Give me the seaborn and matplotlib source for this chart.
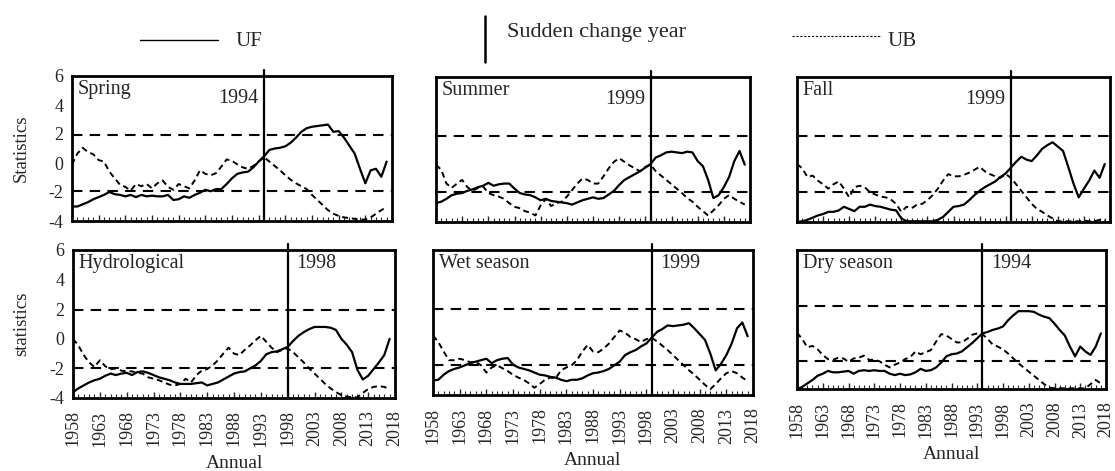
import matplotlib
matplotlib.use("Agg")
import matplotlib.pyplot as plt
from matplotlib.lines import Line2D
import seaborn as sns

# %% Data: Mann-Kendall UF / UB statistics, 1958-2017
years = list(range(1958, 2018))

spring_uf = [-3.0, -3.0, -2.85, -2.7, -2.5, -2.35, -2.2, -2.0, -2.15, -2.2,
             -2.3, -2.2, -2.35, -2.2, -2.3, -2.25, -2.3, -2.3, -2.2, -2.55,
             -2.5, -2.3, -2.4, -2.2, -2.05, -1.85, -1.95, -1.8, -1.8, -1.45,
             -1.05, -0.75, -0.65, -0.6, -0.3, 0.1, 0.45, 0.9, 1.0, 1.05,
             1.15, 1.4, 1.75, 2.15, 2.4, 2.5, 2.55, 2.6, 2.65, 2.15,
             2.2, 1.75, 1.2, 0.65, -0.4, -1.4, -0.5, -0.4, -0.95, 0.1]
spring_ub = [-0.1, 0.65, 1.05, 0.75, 0.6, 0.2, 0.1, -0.6, -1.05, -1.5,
             -1.65, -1.9, -1.45, -1.6, -1.45, -1.75, -1.4, -1.2, -1.65, -1.85,
             -1.45, -1.6, -1.75, -1.2, -0.5, -0.75, -0.85, -0.7, -0.25, 0.25,
             0.15, -0.1, -0.3, -0.4, -0.2, 0.1, 0.4, 0.1, -0.2, -0.5,
             -0.85, -1.15, -1.4, -1.6, -1.8, -2.2, -2.55, -2.9, -3.25, -3.5,
             -3.65, -3.75, -3.8, -3.85, -3.9, -3.9, -3.75, -3.5, -3.25, -3.05]

summer_uf = [-2.7, -2.6, -2.4, -2.15, -2.05, -2.0, -1.85, -1.75, -1.6, -1.5,
             -1.3, -1.5, -1.4, -1.35, -1.35, -1.7, -2.0, -2.1, -2.15, -2.3,
             -2.5, -2.4, -2.55, -2.6, -2.65, -2.7, -2.8, -2.65, -2.5, -2.4,
             -2.3, -2.4, -2.35, -2.1, -1.85, -1.45, -1.1, -0.9, -0.7, -0.5,
             -0.25, 0.0, 0.45, 0.6, 0.8, 0.85, 0.8, 0.75, 0.85, 0.8,
             0.2, -0.15, -1.1, -2.35, -2.15, -1.6, -0.9, 0.2, 0.9, -0.05]
summer_ub = [-0.05, -0.4, -1.35, -1.65, -1.35, -1.1, -1.6, -1.85, -1.65, -1.55,
             -2.0, -2.15, -2.25, -2.4, -2.7, -2.95, -3.05, -3.25, -3.35, -3.55,
             -2.85, -2.4, -2.9, -2.7, -2.6, -2.25, -1.8, -1.35, -1.0, -1.1,
             -1.35, -1.35, -0.85, -0.3, 0.15, 0.4, 0.15, -0.1, -0.3, -0.5,
             -0.2, -0.05, -0.5, -0.8, -1.1, -1.4, -1.7, -2.0, -2.35, -2.6,
             -2.95, -3.25, -3.55, -3.2, -2.85, -2.4, -2.15, -2.4, -2.6, -2.8]

fall_uf = [-4.0, -3.95, -3.85, -3.7, -3.55, -3.45, -3.3, -3.3, -3.2, -2.95,
           -3.1, -3.25, -2.95, -2.95, -2.8, -2.9, -2.95, -3.05, -3.15, -3.2,
           -3.75, -3.95, -3.95, -3.95, -3.95, -3.95, -3.95, -3.85, -3.65, -3.3,
           -2.95, -2.9, -2.8, -2.5, -2.15, -1.85, -1.6, -1.4, -1.2, -0.9,
           -0.65, -0.25, 0.15, 0.5, 0.3, 0.2, 0.6, 1.05, 1.3, 1.5,
           1.2, 0.9, -0.2, -1.35, -2.3, -1.7, -1.15, -0.45, -0.95, 0.0]
fall_ub = [0.0, -0.3, -0.9, -0.8, -1.15, -1.4, -1.7, -1.4, -1.2, -1.7,
           -2.3, -1.6, -1.5, -1.6, -1.95, -2.1, -2.25, -2.3, -2.45, -2.75,
           -3.3, -2.95, -3.05, -2.8, -2.75, -2.5, -2.15, -1.7, -1.15, -0.7,
           -0.85, -0.85, -0.75, -0.6, -0.4, -0.2, -0.5, -0.7, -0.85, -0.95,
           -0.7, -0.95, -1.4, -1.85, -2.3, -2.75, -3.1, -3.3, -3.55, -3.75,
           -3.95, -3.95, -3.95, -3.95, -3.95, -3.9, -3.95, -3.95, -3.85, -3.9]

hydro_uf = [-3.6, -3.35, -3.15, -2.95, -2.8, -2.7, -2.5, -2.35, -2.45, -2.35,
            -2.3, -2.45, -2.25, -2.2, -2.3, -2.45, -2.6, -2.7, -2.8, -2.95,
            -3.05, -3.05, -3.05, -3.0, -2.95, -3.15, -3.05, -2.95, -2.75, -2.55,
            -2.35, -2.25, -2.2, -2.0, -1.8, -1.5, -1.05, -0.9, -0.85, -0.7,
            -0.55, -0.15, 0.2, 0.45, 0.65, 0.8, 0.8, 0.8, 0.75, 0.6,
            0.0, -0.4, -0.9, -2.1, -2.75, -2.5, -2.05, -1.6, -1.1, 0.0]
hydro_ub = [0.0, -0.45, -1.1, -1.6, -1.9, -1.45, -1.85, -2.05, -2.0, -2.15,
            -2.2, -2.2, -2.3, -2.35, -2.6, -2.7, -2.8, -2.95, -3.1, -3.15,
            -3.05, -2.7, -2.95, -2.45, -2.15, -2.05, -1.8, -1.45, -1.0, -0.6,
            -1.0, -1.1, -0.75, -0.45, -0.1, 0.2, -0.2, -0.6, -0.9, -0.75,
            -0.65, -0.9, -1.25, -1.6, -2.0, -2.35, -2.7, -3.05, -3.35, -3.6,
            -3.8, -3.9, -3.95, -3.95, -3.65, -3.4, -3.25, -3.2, -3.25, -3.4]

wet_uf = [-3.0, -2.95, -2.6, -2.35, -2.2, -2.1, -1.95, -1.8, -1.7, -1.6,
          -1.5, -1.8, -1.6, -1.5, -1.45, -1.9, -2.1, -2.2, -2.3, -2.45,
          -2.6, -2.65, -2.75, -2.8, -2.95, -3.05, -2.95, -2.95, -2.85, -2.65,
          -2.5, -2.45, -2.35, -2.2, -1.95, -1.7, -1.25, -1.05, -0.9, -0.65,
          -0.45, -0.05, 0.35, 0.55, 0.8, 0.75, 0.8, 0.85, 0.95, 0.6,
          0.2, -0.2, -1.15, -2.3, -1.85, -1.25, -0.45, 0.6, 1.0, 0.05]
wet_ub = [0.1, -0.35, -1.0, -1.6, -1.6, -1.5, -1.6, -1.75, -1.7, -1.95,
          -2.45, -2.1, -1.95, -2.15, -2.35, -2.6, -2.8, -2.95, -3.2, -3.5,
          -3.25, -2.95, -2.8, -2.85, -2.3, -2.1, -1.95, -1.6, -1.0, -0.55,
          -1.0, -1.05, -0.8, -0.45, 0.0, 0.45, 0.3, 0.0, -0.15, -0.35,
          -0.15, -0.05, -0.3, -0.6, -0.9, -1.25, -1.6, -1.95, -2.3, -2.6,
          -2.95, -3.3, -3.6, -3.25, -2.85, -2.5, -2.35, -2.5, -2.8, -3.05]

dry_uf = [-4.0, -3.85, -3.6, -3.35, -3.05, -2.9, -2.7, -2.8, -2.8, -2.75,
          -2.7, -2.9, -2.7, -2.65, -2.7, -2.65, -2.7, -2.7, -2.9, -3.0,
          -2.9, -3.0, -2.95, -2.8, -2.55, -2.7, -2.65, -2.45, -2.1, -1.65,
          -1.5, -1.45, -1.3, -1.0, -0.7, -0.35, 0.0, 0.1, 0.25, 0.35,
          0.5, 0.95, 1.3, 1.6, 1.6, 1.6, 1.55, 1.35, 1.2, 1.1,
          0.7, 0.25, -0.15, -0.95, -1.65, -0.95, -1.3, -1.55, -0.95, 0.0]
dry_ub = [0.05, -0.4, -1.0, -0.9, -1.15, -1.55, -1.85, -1.9, -1.75, -1.8,
          -2.05, -1.8, -1.75, -1.6, -1.9, -1.9, -2.0, -2.25, -2.45, -2.25,
          -2.1, -1.85, -1.7, -1.3, -1.5, -1.35, -1.2, -0.6, -0.05, -0.15,
          -0.4, -0.65, -0.65, -0.4, -0.1, 0.0, -0.05, -0.4, -0.8, -0.95,
          -1.15, -1.45, -1.8, -2.15, -2.45, -2.75, -3.05, -3.35, -3.65, -3.9,
          -3.95, -3.95, -3.95, -3.95, -3.95, -3.95, -3.95, -3.65, -3.35, -3.6]

panel_names = ["Spring", "Summer", "Fall", "Hydrological", "Wet season", "Dry season"]
change_years = [1994, 1999, 1999, 1998, 1999, 1994]
uf_series = [spring_uf, summer_uf, fall_uf, hydro_uf, wet_uf, dry_uf]
ub_series = [spring_ub, summer_ub, fall_ub, hydro_ub, wet_ub, dry_ub]
crit = 1.96
xticks = list(range(1958, 2019, 5))
yticks = [-4, -2, 0, 2, 4, 6]

# %% Style
sns.set_style("ticks")
plt.rcParams["font.family"] = ["Liberation Serif", "DejaVu Serif"]
plt.rcParams["axes.unicode_minus"] = False

W, H = 1115, 471
fig = plt.figure(figsize=(W / 100, H / 100), dpi=100)

# panel frames in pixels: left, top, right, bottom
frames = [(72, 76, 392, 221), (436, 77, 750, 222), (797, 77, 1110, 222),
          (73, 250, 395, 398), (433, 250, 753, 395), (797, 250, 1106, 389)]

for i, (l, t, r, b) in enumerate(frames):
    ax = fig.add_axes([l / W, 1 - b / H, (r - l) / W, (b - t) / H])
    sns.lineplot(x=years, y=uf_series[i], ax=ax, color="black", linewidth=1.6)
    sns.lineplot(x=years, y=ub_series[i], ax=ax, color="black", linewidth=1.4,
                 linestyle=(0, (3, 2)))
    ax.axhline(crit, color="black", lw=1.5, ls=(0, (5, 3.5)))
    ax.axhline(-crit, color="black", lw=1.5, ls=(0, (5, 3.5)))
    ax.axvline(change_years[i], color="black", lw=1.6, ymax=1.04, clip_on=False)

    ax.set_xlim(1958, 2018)
    ax.set_ylim(-4, 6)
    ax.set_xticks(xticks)
    ax.set_xticks(years, minor=True)
    ax.set_yticks(yticks)
    ax.tick_params(axis="x", which="major", direction="in", length=4, width=1, pad=9)
    ax.tick_params(axis="x", which="minor", direction="in", length=3, width=0.8)
    ax.tick_params(axis="y", length=0, labelsize=13, pad=6)
    ax.set_xlabel("")
    ax.set_ylabel("")
    for sp in ax.spines.values():
        sp.set_linewidth(2)
        sp.set_color("black")

    top_row = i < 3
    if top_row:
        ax.set_xticklabels([])
    else:
        ax.set_xticklabels([str(y) for y in xticks], rotation=90, fontsize=13)
        ax.set_xlabel("Annual", fontsize=14, labelpad=6)
    if i % 3 != 0:
        ax.set_yticklabels([])
    else:
        ax.set_ylabel("Statistics" if top_row else "statistics", fontsize=13.5,
                      labelpad=14)

    ax.annotate(panel_names[i], xy=(0, 0.97), xycoords="axes fraction",
                xytext=(4, 0), textcoords="offset points",
                ha="left", va="top", fontsize=14.5)
    if top_row:
        ax.annotate(str(change_years[i]), xy=(change_years[i], 0.91),
                    xycoords=("data", "axes fraction"), xytext=(-4, 0),
                    textcoords="offset points", ha="right", va="top", fontsize=14.5)
    else:
        ax.annotate(str(change_years[i]), xy=(change_years[i], 0.97),
                    xycoords=("data", "axes fraction"), xytext=(6, 0),
                    textcoords="offset points", ha="left", va="top", fontsize=14.5)

# %% Legend across the top
fig.add_artist(Line2D([140 / W, 218 / W], [1 - 40 / H] * 2, color="black", lw=1))
fig.text(236 / W, 1 - 42 / H, "UF", fontsize=15, va="center")
fig.add_artist(Line2D([485 / W] * 2, [1 - 16 / H, 1 - 62 / H], color="black", lw=1.8))
fig.text(507 / W, 1 - 32 / H, "Sudden change year", fontsize=16, va="center")
fig.add_artist(Line2D([792 / W, 880 / W], [1 - 36 / H] * 2, color="black", lw=0.8,
                      ls=(0, (2, 1.5))))
fig.text(888 / W, 1 - 41 / H, "UB", fontsize=15, va="center")

fig.savefig("out.png", dpi=100)
